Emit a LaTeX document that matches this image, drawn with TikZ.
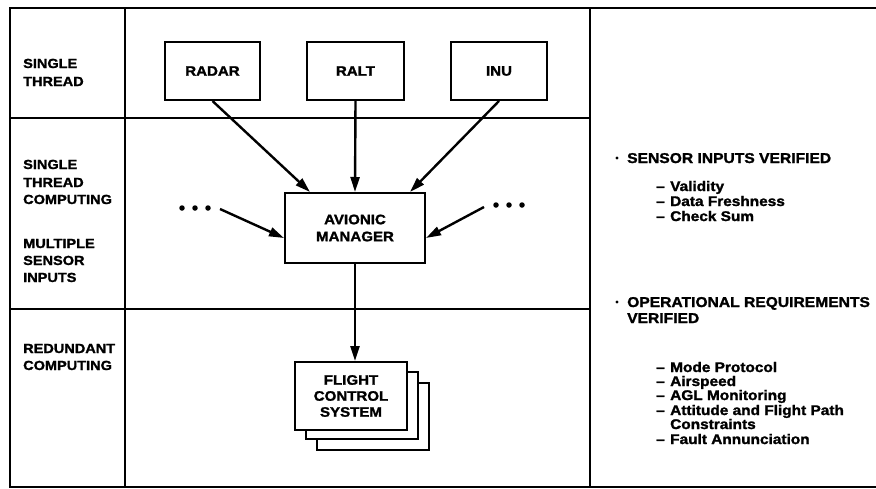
\documentclass[tikz,border=0pt]{standalone}
\usepackage{fontspec}
\setmainfont{Liberation Sans}[FakeStretch=1.1, BoldFeatures={FakeBold=1.6}]
\usetikzlibrary{arrows.meta,calc}
\newcommand{\lblfont}{\fontsize{13.2}{17}\selectfont\bfseries}
\newcommand{\boxfont}{\fontsize{13.7}{17}\selectfont\bfseries}
\newcommand{\rtfont}{\fontsize{14.2}{17}\selectfont\bfseries}
\newcommand{\itfont}{\fontsize{14}{15}\selectfont\bfseries}
\begin{document}
\begin{tikzpicture}[x=1pt,y=-1pt,
  frame/.style={line width=2pt},
  box/.style={draw,line width=2pt,fill=white,inner sep=0pt,align=center,font=\boxfont},
  lbl/.style={anchor=base west,inner sep=0pt,font=\lblfont},
  rt/.style={anchor=base west,inner sep=0pt,font=\rtfont},
  it/.style={anchor=base west,inner sep=0pt,font=\itfont},
  arr/.style={line width=2.4pt,-{Triangle[length=15pt,width=9pt]}},
  dotn/.style={circle,fill,inner sep=0pt,minimum size=5.5pt}]
\useasboundingbox (0,0) rectangle (876,488);
% frame
\draw[frame] (876,8) -- (10,8) -- (10,487) -- (876,487);
\draw[frame] (125,8) -- (125,487);
\draw[frame] (590,8) -- (590,487);
\draw[frame] (10,118) -- (590,118);
\draw[frame] (10,309) -- (590,309);
% left labels
\foreach \t/\y [count=\i] in {SINGLE/68, THREAD/86, SINGLE/169, THREAD/187, COMPUTING/204,
  MULTIPLE/248, SENSOR/265, INPUTS/282, REDUNDANT/353, COMPUTING/370}
  \node[lbl] (lab\i) at (23,\y) {\t};
% boxes
\node[box,minimum width=95pt,minimum height=58pt] (radar) at (212.5,71) {RADAR};
\node[box,minimum width=97pt,minimum height=58pt] (ralt) at (355.5,71) {RALT};
\node[box,minimum width=96pt,minimum height=58pt] (inu) at (499,71) {INU};
\node[box,minimum width=140pt,minimum height=70pt] (am) at (355,228) {AVIONIC\\MANAGER};
\node[box,minimum width=112pt,minimum height=67pt] (fcs3) at (373,416) {};
\node[box,minimum width=112pt,minimum height=67pt] (fcs2) at (362,405.5) {};
\node[box,minimum width=112pt,minimum height=68pt] (fcs) at (351,396) {FLIGHT\\[-1pt]CONTROL\\[-1pt]SYSTEM};
% dots
\node[dotn] (ld1) at (182,208) {};
\node[dotn] (ld2) at (195,208) {};
\node[dotn] (ld3) at (208,208) {};
\node[dotn] (rd1) at (496,205) {};
\node[dotn] (rd2) at (509,205) {};
\node[dotn] (rd3) at (522,205) {};
\coordinate (lstart) at (220,209);
\coordinate (rstart) at (484,207);
% arrows
\draw[arr] (radar.south) -- ([xshift=-45pt]am.north);
\draw[arr] (ralt.south) -- (am.north);
\draw[arr] (inu.south) -- ([xshift=55pt]am.north);
\draw[arr] (lstart) -- ([yshift=-10pt]am.west);
\draw[arr] (rstart) -- ([yshift=-10pt]am.east);
\draw[arr] (am.south) -- (am.south |- fcs.north);
% right text
\fill (617,158) circle (1.7);
\node[rt] (s1) at (627,163) {SENSOR INPUTS VERIFIED};
\foreach \t/\y [count=\i] in {Validity/191, Data Freshness/206, Check Sum/221}{
  \node[it] (sd\i) at (656,\y) {--};
  \node[it] (si\i) at (670,\y) {\t};
}
\fill (617,302) circle (1.7);
\node[rt] (o1) at (627,307) {OPERATIONAL REQUIREMENTS};
\node[rt] (o2) at (627,323) {VERIFIED};
\foreach \t/\y [count=\i] in {Mode Protocol/372, Airspeed/386, AGL Monitoring/400,
  Attitude and Flight Path/415, Fault Annunciation/444}{
  \node[it] (od\i) at (656,\y) {--};
  \node[it] (oi\i) at (670,\y) {\t};
}
\node[it] (oc) at (670,429) {Constraints};
\end{tikzpicture}
\end{document}
